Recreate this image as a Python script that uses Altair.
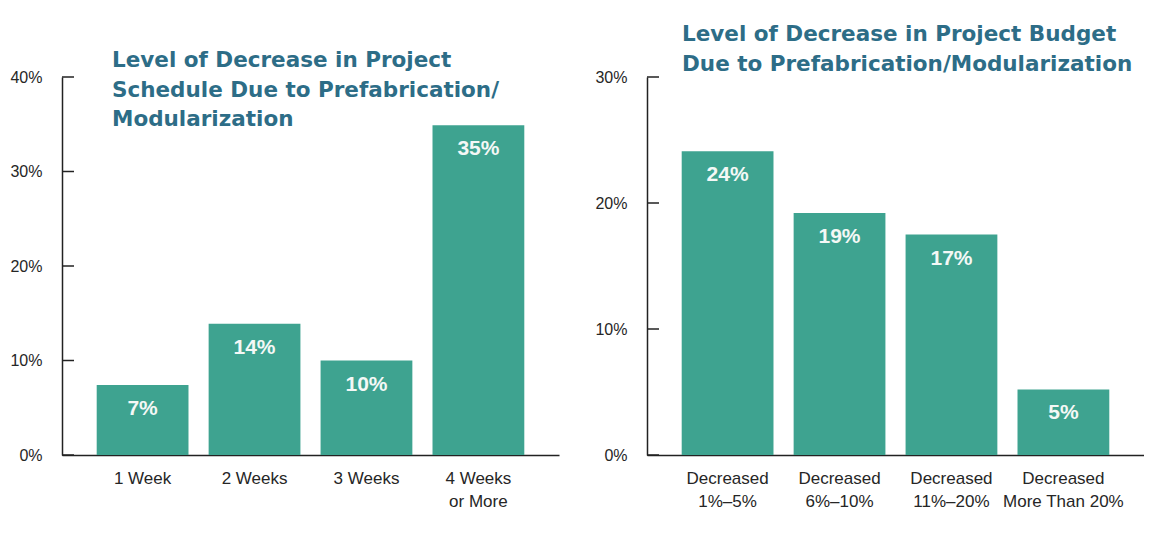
import altair as alt
import pandas as pd

# ---- data ----
sched_cats = ["1 Week", "2 Weeks", "3 Weeks", "4 Weeks\nor More"]
sched_vals = [7.4, 13.9, 10.0, 34.9]
sched_labels = ["7%", "14%", "10%", "35%"]
sched_ticks = [0, 10, 20, 30, 40]
sched_title = ["Level of Decrease in Project",
               "Schedule Due to Prefabrication/",
               "Modularization"]

budget_cats = ["Decreased\n1%\u20135%", "Decreased\n6%\u201310%",
               "Decreased\n11%\u201320%", "Decreased\nMore Than 20%"]
budget_vals = [24.1, 19.2, 17.5, 5.2]
budget_labels = ["24%", "19%", "17%", "5%"]
budget_ticks = [0, 10, 20, 30]
budget_title = ["Level of Decrease in Project Budget",
                "Due to Prefabrication/Modularization"]

BAR = "#3ea390"
TITLE_C = "#2d6d87"
AX = "#222222"
TXT = "#262626"
FONT = "Liberation Sans"


def panel(cats, vals, labels, ticks, title, ymax, tdx, tdy):
    df = pd.DataFrame({"cat": cats, "val": vals, "lab": labels})
    xenc = alt.X(
        "cat:N", sort=cats, title=None,
        scale=alt.Scale(paddingInner=0.18, paddingOuter=0.31),
        axis=alt.Axis(labelExpr="split(datum.label, '\\n')", ticks=False,
                      domainColor=AX, domainWidth=1.5, labelAngle=0,
                      labelFont=FONT, labelFontSize=17, labelColor=TXT,
                      labelPadding=15, labelLineHeight=23),
    )
    yenc = alt.Y(
        "val:Q", title=None,
        scale=alt.Scale(domain=[0, ymax], nice=False),
        axis=alt.Axis(values=ticks, labelExpr="datum.value + '%'", ticks=False,
                      grid=False, domainColor=AX, domainWidth=1.5,
                      labelPadding=20, labelFont=FONT, labelFontSize=16,
                      labelColor=TXT),
    )
    base = alt.Chart(df)
    bars = base.mark_bar(color=BAR).encode(x=xenc, y=yenc)
    txt = base.mark_text(dy=24, baseline="middle", color="#f4f8f6", font=FONT,
                         fontWeight="bold", fontSize=21).encode(
        x=alt.X("cat:N", sort=cats), y=alt.Y("val:Q"), text="lab:N")
    tdf = pd.DataFrame({"val": ticks})
    trules = alt.Chart(tdf).mark_rule(color=AX, strokeWidth=1.5).encode(
        y=alt.Y("val:Q"), x=alt.value(0), x2=alt.value(12))
    ttl = alt.Chart(pd.DataFrame({"k": [0]})).mark_text(
        text=title, align="left", baseline="alphabetic", lineHeight=29.5,
        font="DejaVu Sans", fontWeight="bold", fontSize=21.5, color=TITLE_C,
    ).encode(x=alt.value(tdx), y=alt.value(tdy))
    return alt.layer(bars, txt, trules, ttl).properties(width=497, height=378)


left = panel(sched_cats, sched_vals, sched_labels, sched_ticks, sched_title,
             40, 50, -10)
right = panel(budget_cats, budget_vals, budget_labels, budget_ticks,
              budget_title, 30, 35, -36)

chart = alt.hconcat(left, right, spacing=35).properties(
    padding={"left": 1, "top": 16, "right": 0, "bottom": 0},
    background="white",
).configure_view(stroke=None)

chart.save("out.html", embed_options={"renderer": "svg", "actions": False})
